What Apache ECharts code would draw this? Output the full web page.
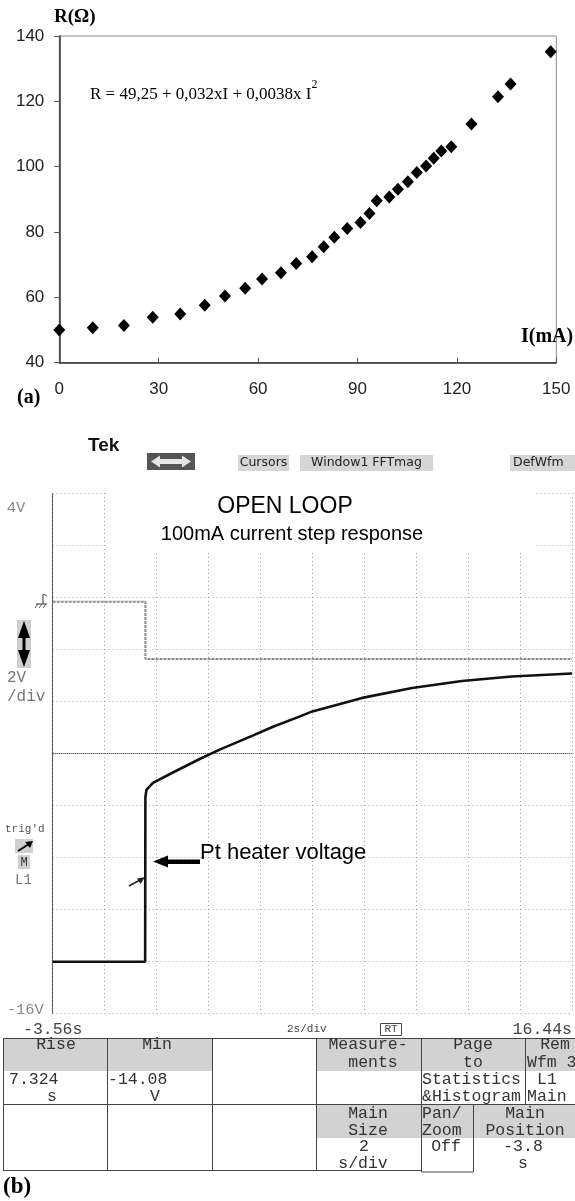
<!DOCTYPE html>
<html><head><meta charset="utf-8">
<script src="https://cdn.jsdelivr.net/npm/echarts@6/dist/echarts.min.js"></script>
<style>html,body{margin:0;padding:0;background:#fff}#c{width:575px;height:1201px}</style>
</head><body><div id="c"></div>
<script>
// ---------- Panel (a): R vs I ----------
const currentMA = [0, 10.1, 19.5, 28.2, 36.5, 43.9, 50.0, 56.1, 61.2, 66.9, 71.5, 76.3, 79.8, 83.0, 86.9, 90.9, 93.6, 95.8, 99.6, 102.2, 105.2, 107.9, 110.7, 113.0, 115.3, 118.3, 124.4, 132.4, 136.2, 148.3];
const resistanceOhm = [50.0, 50.7, 51.4, 53.9, 54.9, 57.6, 60.4, 62.8, 65.6, 67.5, 70.4, 72.4, 75.5, 78.4, 81.1, 82.9, 85.7, 89.6, 90.7, 93.1, 95.4, 98.2, 100.2, 102.6, 104.8, 106.1, 113.1, 121.4, 125.3, 135.2];
const aXTicks = [0, 30, 60, 90, 120, 150];
const aYTicks = [40, 60, 80, 100, 120, 140];
const aYTitle = 'R(Ω)';
const aXTitle = 'I(mA)';
const aFit = 'R = 49,25 + 0,032xI + 0,0038x I';

// ---------- Panel (b): oscilloscope ----------
const scopeTimeRange = [-3.56, 16.44];          // s, left / right edge
const scopeTimeLabels = ['-3.56s', '16.44s'];
const scopeVoltTicks = [-16, -14, -12, -10, -8, -6, -4, -2, 0, 2, 4];
const scopeVoltLabels = { '4': '4V', '-16': '-16V' };
const scopeCenterLevel = -6;
const divisions = [0, 1, 2, 3, 4, 5, 6, 7, 8, 9, 10];
// channel trace (grey, upper)
const ch1Time = [-3.56, 0.01, 0.01, 16.44];
const ch1Volt = [-0.18, -0.18, -2.38, -2.38];
// Pt heater voltage (black)
const heaterTime = [-3.56, 0.0, 0.01, 0.05, 0.30, 1.07, 2.10, 2.87, 4.14, 4.90, 5.94, 6.44, 8.36, 10.28, 12.20, 14.12, 16.44];
const heaterVolt = [-14.03, -14.03, -7.70, -7.42, -7.15, -6.75, -6.23, -5.87, -5.33, -5.00, -4.60, -4.40, -3.88, -3.50, -3.23, -3.06, -2.94];

const menuItems = ['Cursors', 'Window1 FFTmag', 'DefWfm'];
const measRise = ['Rise', '7.324', 's'];
const measMin = ['Min', '-14.08', 'V'];

const SERIF = 'Liberation Serif', SANS = 'Liberation Sans', MONO = 'Liberation Mono';

function T(text, x, y, font, fill, align, va) {
  align = align || 'left'; va = va || 'middle';
  return { type: 'text', x: x, y: y, z: 100, silent: true,
    style: { text: text, font: font, fill: fill, align: align, verticalAlign: va, textAlign: align, textVerticalAlign: va } };
}
function R(x, y, w, h, fill, stroke, lw) {
  return { type: 'rect', z: 90, silent: true, shape: { x: x, y: y, width: w, height: h },
    style: { fill: fill || 'none', stroke: stroke || null, lineWidth: lw || 1 } };
}
function L(x1, y1, x2, y2, color, lw) {
  return { type: 'line', z: 95, silent: true, shape: { x1: x1, y1: y1, x2: x2, y2: y2 },
    style: { stroke: color || '#444', lineWidth: lw || 1 } };
}
function P(points, fill) {
  return { type: 'polygon', z: 96, silent: true, shape: { points: points }, style: { fill: fill } };
}

const g = [];
// panel (a) texts
g.push(T(aYTitle, 54, 17.5, 'bold 19px ' + SERIF, '#000'));
g.push(T(aXTitle, 521, 337, 'bold 20px ' + SERIF, '#000'));
g.push(T('(a)', 17, 398, 'bold 20px ' + SERIF, '#000'));
g.push({ type: 'text', x: 90, y: 91, z: 100, silent: true,
  style: { text: '{m|' + aFit + '}{s|2}', align: 'left', verticalAlign: 'middle', textAlign: 'left', textVerticalAlign: 'middle',
    rich: { m: { font: '17px ' + SERIF, fill: '#000', lineHeight: 24, verticalAlign: 'bottom' },
            s: { font: '12px ' + SERIF, fill: '#000', lineHeight: 12, verticalAlign: 'top' } } } });

// panel (b) header
g.push(R(106, 489, 430, 63, '#fff'));
g.push(T('Tek', 88, 446, 'bold 19px ' + SANS, '#111'));
g.push(R(147, 453, 48, 17, '#555'));
g.push(P([[151, 461.5], [160, 455.5], [160, 459], [182, 459], [182, 455.5], [191, 461.5], [182, 467.5], [182, 464], [160, 464], [160, 467.5]], '#e6e6e6'));
g.push(R(238, 455, 51, 16, '#d6d6d6'));
g.push(T(menuItems[0], 263.5, 463, '12.5px DejaVu Sans', '#222', 'center'));
g.push(R(300, 455, 133, 16, '#d6d6d6'));
g.push(T(menuItems[1], 366.5, 463, '12.5px DejaVu Sans', '#222', 'center'));
g.push(R(510, 455, 65, 16, '#d6d6d6'));
g.push(T(menuItems[2], 513, 463, '12.5px DejaVu Sans', '#222', 'left'));
g.push(T('OPEN LOOP', 285, 507, '23px ' + SANS, '#000', 'center'));
g.push(T('100mA current step response', 292, 534, '20px ' + SANS, '#000', 'center'));

// left side scope labels
g.push(R(17, 620, 14, 48, '#cfcfcf'));
g.push(L(24, 630, 24, 658, '#000', 3));
g.push(P([[24, 621], [18, 638], [30, 638]], '#000'));
g.push(P([[24, 667], [18, 650], [30, 650]], '#000'));
g.push(T('2V', 7, 677.5, '16px ' + MONO, '#777'));
g.push(T('/div', 7, 697, '16px ' + MONO, '#777'));
g.push(T("trig'd", 5, 829, '11px ' + MONO, '#555'));
g.push(R(15, 839, 18, 14, '#d0d0d0'));
g.push(L(18, 851, 29, 844, '#000', 2));
g.push(P([[33, 841], [25, 842], [30, 848]], '#000'));
g.push(R(18, 855, 12, 14, '#d0d0d0'));
g.push(T('M', 24, 863, '12px ' + MONO, '#333', 'center'));
g.push(T('L1', 15, 880, '14px ' + MONO, '#777'));
// ground marker
g.push(L(43, 594, 43, 604, '#555', 1.2));
g.push(L(36, 604, 47, 604, '#555', 1.2));
g.push(L(35, 608, 38, 604, '#555', 1));
g.push(L(39, 608, 42, 604, '#555', 1));
g.push(L(43, 608, 46, 604, '#555', 1));
g.push(L(43, 594, 47, 596, '#555', 1));

// annotation arrows
g.push(R(166, 859.5, 34, 4.5, '#000'));
g.push(P([[153, 861.5], [168, 855.5], [168, 867.5]], '#000'));
g.push(T('Pt heater voltage', 200, 852.5, '22px ' + SANS, '#000'));
g.push(L(129, 886, 140, 880, '#222', 1.5));
g.push(P([[145, 877], [137, 878.5], [140.5, 884]], '#222'));

// bottom scale text
g.push(T('2s/div', 287, 1029, '11px ' + MONO, '#444'));
g.push(R(380.5, 1023.5, 21, 12, null, '#444', 1));
g.push(T('RT', 391, 1029.5, '11px ' + MONO, '#444', 'center'));

// measurement table shading
[[4, 1039, 103, 32], [108, 1039, 104, 32], [317, 1039, 104, 32], [422, 1039, 103, 32], [526, 1039, 49, 32],
 [317, 1105, 104, 33], [422, 1105, 51, 33], [474, 1105, 101, 33]].forEach(function (r) { g.push(R(r[0], r[1], r[2], r[3], '#d2d2d2')); });
// table lines
g.push(L(3, 1038.5, 575, 1038.5)); g.push(L(3, 1104.5, 575, 1104.5));
g.push(L(3, 1170.5, 421.5, 1170.5)); g.push(L(421.5, 1172, 473.5, 1172));
[3.5, 107.5, 212.5, 316.5].forEach(function (x) { g.push(L(x, 1038, x, 1171)); });
g.push(L(421.5, 1038, 421.5, 1172)); g.push(L(525.5, 1038, 525.5, 1104.5)); g.push(L(473.5, 1104.5, 473.5, 1172));
// table text
const TF = '16.5px ' + MONO, TC = '#333';
g.push(T(measRise[0], 56, 1045, TF, TC, 'center'));
g.push(T(measRise[1], 9, 1080, TF, TC));
g.push(T(measRise[2], 52, 1097, TF, TC, 'center'));
g.push(T(measMin[0], 157, 1045, TF, TC, 'center'));
g.push(T(measMin[1], 108, 1080, TF, TC));
g.push(T(measMin[2], 155, 1097, TF, TC, 'center'));
g.push(T('Measure-', 368, 1045, TF, TC, 'center'));
g.push(T('ments', 373, 1063, TF, TC, 'center'));
g.push(T('Page', 473, 1045, TF, TC, 'center'));
g.push(T('to', 473, 1063, TF, TC, 'center'));
g.push(T('Statistics', 422, 1080, TF, TC));
g.push(T('&Histogram', 422, 1097, TF, TC));
g.push(T('Rem', 555, 1045, TF, TC, 'center'));
g.push(T('Wfm 3', 527, 1063, TF, TC));
g.push(T('L1', 537, 1080, TF, TC));
g.push(T('Main', 527, 1097, TF, TC));
g.push(T('Main', 368, 1114, TF, TC, 'center'));
g.push(T('Size', 368, 1131, TF, TC, 'center'));
g.push(T('2', 364, 1147, TF, TC, 'center'));
g.push(T('s/div', 363, 1164, TF, TC, 'center'));
g.push(T('Pan/', 422, 1114, TF, TC));
g.push(T('Zoom', 422, 1131, TF, TC));
g.push(T('Off', 446, 1147, TF, TC, 'center'));
g.push(T('Main', 525, 1114, TF, TC, 'center'));
g.push(T('Position', 525, 1131, TF, TC, 'center'));
g.push(T('-3.8', 523, 1147, TF, TC, 'center'));
g.push(T('s', 523, 1164, TF, TC, 'center'));
g.push(T('(b)', 3, 1187, 'bold 23px ' + SERIF, '#000'));

const near = function (a, b) { return Math.abs(a - b) < 1e-6; };

const option = {
  animation: false,
  backgroundColor: '#fff',
  grid: [
    { left: 59.3, top: 36, width: 497, height: 326.7, show: true, borderColor: '#8a8a8a', borderWidth: 1, backgroundColor: 'transparent' },
    { left: 52.7, top: 493, width: 520.6, height: 520 }
  ],
  xAxis: [
    { gridIndex: 0, type: 'value', min: aXTicks[0], max: aXTicks[aXTicks.length - 1], interval: aXTicks[1] - aXTicks[0],
      axisLine: { show: true, onZero: false, lineStyle: { color: '#333', width: 1.5 } },
      axisTick: { show: true, inside: true, length: 5, lineStyle: { color: '#555' } },
      splitLine: { show: false },
      axisLabel: { margin: 18, fontSize: 17, fontFamily: SANS, color: '#222' } },
    { gridIndex: 1, type: 'value', min: scopeTimeRange[0], max: scopeTimeRange[1],
      axisLine: { show: false }, axisTick: { show: false }, splitLine: { show: false },
      axisLabel: { interval: 0, showMinLabel: true, showMaxLabel: true, margin: 8, fontSize: 16.5, fontFamily: MONO, color: '#444',
        alignMinLabel: 'center', alignMaxLabel: 'right',
        formatter: function (v) { return near(v, scopeTimeRange[0]) ? scopeTimeLabels[0] : (near(v, scopeTimeRange[1]) ? scopeTimeLabels[1] : ''); } } },
    { gridIndex: 1, type: 'value', position: 'top', min: divisions[0], max: divisions[divisions.length - 1], interval: divisions[1] - divisions[0],
      axisLine: { show: false }, axisTick: { show: false }, axisLabel: { show: false },
      splitLine: { show: true, lineStyle: { color: '#a0a0a0', type: [1, 3], width: 1 } } }
  ],
  yAxis: [
    { gridIndex: 0, type: 'value', min: aYTicks[0], max: aYTicks[aYTicks.length - 1], interval: aYTicks[1] - aYTicks[0],
      axisLine: { show: true, onZero: false, lineStyle: { color: '#333', width: 1.5 } },
      axisTick: { show: true, inside: false, length: 5, lineStyle: { color: '#555' } },
      splitLine: { show: false },
      axisLabel: { margin: 15, fontSize: 17, fontFamily: SANS, color: '#222' } },
    { gridIndex: 1, type: 'value', min: scopeVoltTicks[0], max: scopeVoltTicks[scopeVoltTicks.length - 1], interval: scopeVoltTicks[1] - scopeVoltTicks[0],
      axisLine: { show: true, onZero: false, lineStyle: { color: '#555', type: [1, 1], width: 1.2 } },
      axisTick: { show: false },
      splitLine: { show: true, lineStyle: { color: '#a0a0a0', type: [1, 3], width: 1 } },
      axisLabel: { interval: 0, align: 'left', margin: 46, fontSize: 15.5, fontFamily: MONO, color: '#888',
        formatter: function (v) {
          const s = scopeVoltLabels[String(v)];
          if (!s) return '';
          return v > 0 ? '{t|' + s + '}' : '{b|' + s + '}';
        },
        rich: { t: { padding: [30, 0, 0, 0], fontSize: 15.5, fontFamily: MONO, color: '#888' },
                b: { padding: [0, 0, 6, 0], fontSize: 15.5, fontFamily: MONO, color: '#888' } } } }
  ],
  series: [
    { type: 'scatter', xAxisIndex: 0, yAxisIndex: 0, symbol: 'diamond', symbolSize: [12, 13],
      itemStyle: { color: '#000', opacity: 1 }, data: currentMA.map(function (x, i) { return [x, resistanceOhm[i]]; }) },
    { type: 'line', xAxisIndex: 1, yAxisIndex: 1, showSymbol: false, symbol: 'none', clip: true,
      lineStyle: { color: '#8c8c8c', width: 2, type: [3, 1] }, data: ch1Time.map(function (t, i) { return [t, ch1Volt[i]]; }) },
    { type: 'line', xAxisIndex: 1, yAxisIndex: 1, showSymbol: false, symbol: 'none', clip: true,
      lineStyle: { color: '#111', width: 2.6 }, data: heaterTime.map(function (t, i) { return [t, heaterVolt[i]]; }),
      markLine: { silent: true, symbol: ['none', 'none'], label: { show: false },
        lineStyle: { color: '#222', type: [1, 1], width: 1.2 }, data: [{ yAxis: scopeCenterLevel }] } }
  ],
  graphic: { elements: g }
};

const chart = echarts.init(document.getElementById('c'), null, { renderer: 'canvas' });
chart.setOption(option);
</script>
</body></html>
